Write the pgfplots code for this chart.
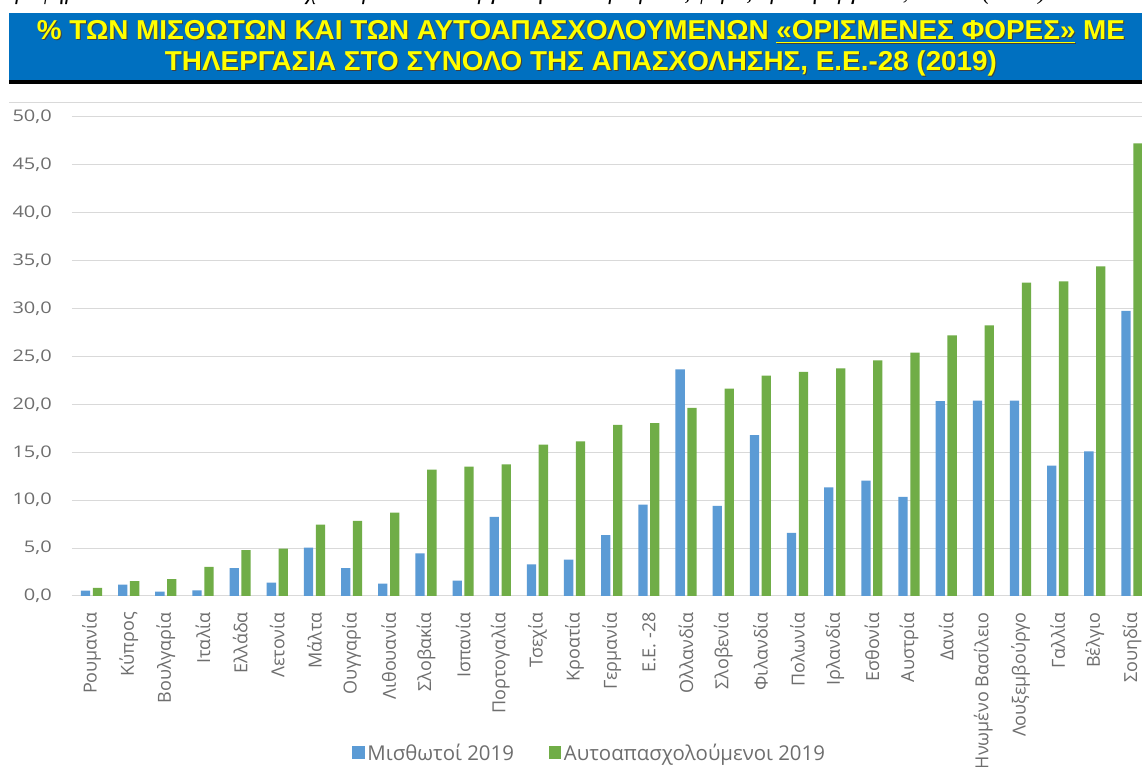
\documentclass[border=0pt]{standalone}
\usepackage{fontspec}
\setmainfont{Open Sans}
\newfontfamily\titlefont{Liberation Sans}
\newfontfamily\notefont{Liberation Serif}
\usepackage{graphicx}
\usepackage{pgfplots}
\pgfplotsset{compat=1.18}
\usepackage{pgfplotstable}

\definecolor{titleblue}{HTML}{0070C0}
\definecolor{titleyellow}{HTML}{FFFF00}
\definecolor{cblue}{HTML}{5B9BD5}
\definecolor{cgreen}{HTML}{70AD47}
\definecolor{cgrid}{HTML}{D9D9D9}
\definecolor{ctext}{HTML}{6E6E6E}

% % with telework "sometimes", EU-28, 2019
\pgfplotstableread{
idx misth autoap
0  0.55  0.85
1  1.2   1.55
2  0.45  1.75
3  0.6   3.05
4  2.9   4.8
5  1.4   4.95
6  5.05  7.45
7  2.9   7.85
8  1.3   8.7
9  4.45  13.2
10 1.6   13.5
11 8.25  13.75
12 3.3   15.8
13 3.8   16.15
14 6.35  17.85
15 9.55  18.05
16 23.65 19.65
17 9.4   21.65
18 16.8  23.0
19 6.6   23.4
20 11.35 23.75
21 12.05 24.6
22 10.35 25.4
23 20.35 27.2
24 20.4  28.25
25 20.4  32.7
26 13.6  32.85
27 15.1  34.4
28 29.75 47.25
}\telework

\newcommand\lineone{\% ΤΩΝ ΜΙΣΘΩΤΩΝ ΚΑΙ ΤΩΝ ΑΥΤΟΑΠΑΣΧΟΛΟΥΜΕΝΩΝ \underline{«ΟΡΙΣΜΕΝΕΣ ΦΟΡΕΣ»} ΜΕ}
\newcommand\linetwo{ΤΗΛΕΡΓΑΣΙΑ ΣΤΟ ΣΥΝΟΛΟ ΤΗΣ ΑΠΑΣΧΟΛΗΣΗΣ, Ε.Ε.-28 (2019)}

\begin{document}
\begin{tikzpicture}[x=0.75pt,y=0.75pt]
\fill[white] (0,0) rectangle (1142,767);

% caption line above, cut off by the crop
\node[anchor=base west, inner sep=0pt, font=\notefont\itshape\fontsize{18}{22}\selectfont]
  at (2,767) {Γράφημα 3: Ποσοστό των απασχολουμένων που εργάστηκαν «ορισμένες φορές» με τηλεργασία, ΕΕ-28 (2019)};

% title banner
\fill[titleblue] (9,754) rectangle (1142,687);
\fill[black] (9,687) rectangle (1142,683);
\begin{scope}[every node/.style={anchor=base, inner sep=0pt, font=\titlefont\bfseries\fontsize{20.5}{24}\selectfont}]
  \node[text=black!75] at (582,726) {\resizebox{816pt}{\height}{\lineone}};
  \node[text=titleyellow] at (581,727) {\resizebox{816pt}{\height}{\lineone}};
  \node[text=black!75] at (582,695) {\resizebox{624pt}{\height}{\linetwo}};
  \node[text=titleyellow] at (581,696) {\resizebox{624pt}{\height}{\linetwo}};
\end{scope}

% chart area border
\draw[cgrid, line width=0.75pt] (9,664) -- (1142,664);

\begin{axis}[
  at={(54pt,128.25pt)}, anchor=south west,
  scale only axis, width=802.5pt, height=359.25pt,
  xmin=-0.525, xmax=28.27, ymin=0, ymax=50,
  ybar, bar width=0.25,
  axis line style={draw=none},
  major tick length=0pt,
  ytick={0,5,...,50},
  ymajorgrids, grid style={draw=cgrid, line width=0.75pt},
  yticklabel={\scalebox{1.25}[1]{\pgfmathprintnumber[fixed,fixed zerofill,precision=1,use comma,assume math mode=true]{\tick}}},
  yticklabel style={font=\fontsize{12}{14}\selectfont, text=ctext, anchor=east, inner sep=0pt},
  yticklabel shift=15pt,
  xtick={0,...,28},
  xticklabels={Ρουμανία,Κύπρος,Βουλγαρία,Ιταλία,Ελλάδα,Λετονία,Μάλτα,Ουγγαρία,Λιθουανία,Σλοβακία,Ισπανία,Πορτογαλία,Τσεχία,Κροατία,Γερμανία,Ε.Ε. -28,Ολλανδία,Σλοβενία,Φιλανδία,Πολωνία,Ιρλανδία,Εσθονία,Αυστρία,Δανία,Ηνωμένο Βασίλειο,Λουξεμβούργο,Γαλλία,Βέλγιο,Σουηδία},
  xticklabel style={rotate=90, anchor=east, font=\fontsize{13.5}{15}\selectfont, text=ctext, inner sep=0pt},
  xticklabel shift=12pt,
  legend style={at={(0.484,-0.328)}, anchor=center, legend columns=2, draw=none, fill=none,
    font=\fontsize{15.3}{18}\selectfont, text=ctext,
    /tikz/every even column/.append style={column sep=24pt}},
  legend image code/.code={\fill[#1, draw=none] (0pt,-4.5pt) rectangle (9.5pt,5pt);},
]
\addplot[fill=cblue, draw=none, bar shift=-0.16] table[x=idx, y=misth] {\telework};
\addplot[fill=cgreen, draw=none, bar shift=0.16] table[x=idx, y=autoap] {\telework};
\legend{Μισθωτοί 2019, Αυτοαπασχολούμενοι 2019}
\end{axis}

\pgfresetboundingbox
\useasboundingbox (0,0) rectangle (1142,767);
\end{tikzpicture}
\end{document}
